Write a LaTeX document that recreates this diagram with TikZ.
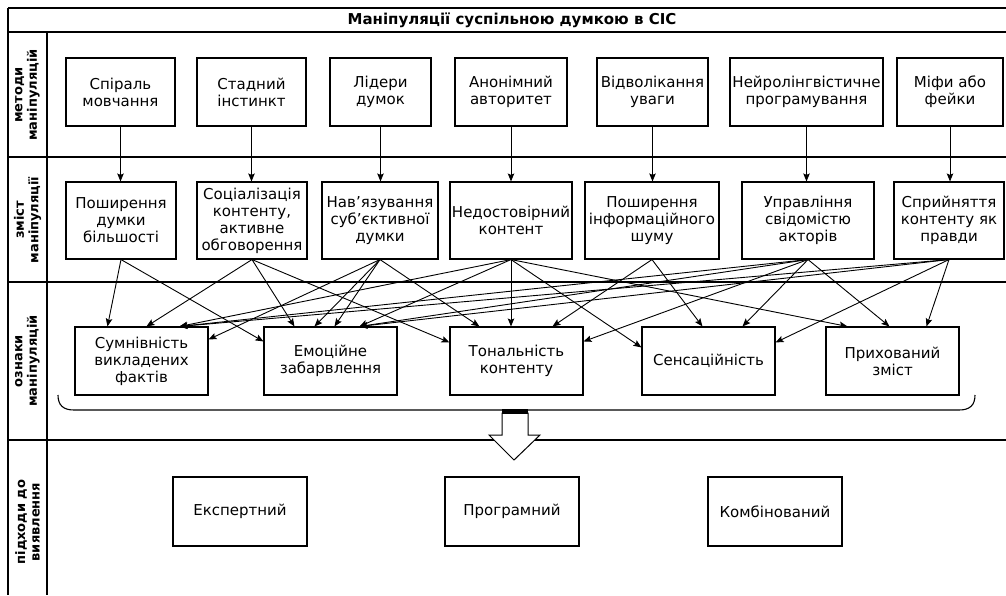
\documentclass[tikz,border=0pt]{standalone}
\usepackage{fontspec}
\setmainfont{DejaVu Sans}
\usetikzlibrary{arrows.meta,calc}
\begin{document}
\begin{tikzpicture}[x=1pt,y=-1pt,
  box/.style={draw,line width=1.1pt,inner sep=1pt,align=center,font=\fontsize{15}{17}\selectfont},
  r1/.style={box,minimum height=68pt},
  r2/.style={box,minimum height=77pt},
  r3/.style={box,minimum height=68pt,minimum width=133pt},
  r4/.style={box,minimum height=69pt,minimum width=134pt},
  lab/.style={rotate=90,align=center,font=\bfseries\fontsize{13}{14.5}\selectfont},
  con/.style={line width=0.9pt,-{Stealth[length=8pt,width=6.5pt,inset=1.5pt]}},
  frame/.style={line width=1.2pt}]
\useasboundingbox (0,0) rectangle (1006,595);
% frame
\draw[frame,line width=1.6pt] (8,8) -- (1006,8);
\draw[frame] (8,32) -- (1006,32);
\draw[frame] (8,157) -- (1006,157);
\draw[frame] (8,282) -- (1006,282);
\draw[frame] (8,440) -- (1006,440);
\draw[frame] (8,8) -- (8,595);
\draw[frame] (47,32) -- (47,595);
\node[font=\bfseries\fontsize{15}{17}\selectfont] (title) at (512,20) {Маніпуляції суспільною думкою в СІС};
% labels
\node[lab] (L1) at (27.5,95) {методи\\маніпуляцій};
\node[lab] (L2) at (27.5,220) {зміст\\маніпуляції};
\node[lab] (L3) at (27.5,361) {ознаки\\маніпуляцій};
\node[lab] (L4) at (27.5,522) {підходи до\\виявлення};
% row 1
\node[r1,minimum width=109pt] (B1) at (120.5,92) {Спіраль\\мовчання};
\node[r1,minimum width=109pt] (B2) at (251.5,92) {Стадний\\інстинкт};
\node[r1,minimum width=101pt] (B3) at (380.5,92) {Лідери\\думок};
\node[r1,minimum width=112pt] (B4) at (511,92) {Анонімний\\авторитет};
\node[r1,minimum width=111pt] (B5) at (652.5,92) {Відволікання\\уваги};
\node[r1,minimum width=153pt] (B6) at (806.5,92) {Нейролінгвістичне\\програмування};
\node[r1,minimum width=106pt] (B7) at (950,92) {Міфи або\\фейки};
% row 2
\node[r2,minimum width=110pt] (S1) at (121,220.5) {Поширення\\думки\\більшості};
\node[r2,minimum width=110pt] (S2) at (252,220.5) {Соціалізація\\контенту,\\активне\\обговорення};
\node[r2,minimum width=116pt] (S3) at (380,220.5) {Нав'язування\\суб'єктивної\\думки};
\node[r2,minimum width=122pt] (S4) at (511,220.5) {Недостовірний\\контент};
\node[r2,minimum width=134pt] (S5) at (652,220.5) {Поширення\\інформаційного\\шуму};
\node[r2,minimum width=132pt] (S6) at (808,220.5) {Управління\\свідомістю\\акторів};
\node[r2,minimum width=110pt] (S7) at (949,220.5) {Сприйняття\\контенту як\\правди};
% row 3
\node[r3] (T1) at (141.5,361) {Сумнівність\\викладених\\фактів};
\node[r3] (T2) at (330.5,361) {Емоційне\\забарвлення};
\node[r3] (T3) at (516.5,361) {Тональність\\контенту};
\node[r3] (T4) at (708.5,361) {Сенсаційність};
\node[r3] (T5) at (892.5,361) {Прихований\\зміст};
% row 4
\node[r4] (A1) at (240,511.5) {Експертний};
\node[r4] (A2) at (512,511.5) {Програмний};
\node[r4] (A3) at (775,511.5) {Комбінований};
% row1 -> row2
\foreach \i in {1,...,7}{\draw[con] (B\i.south) -- (B\i.south |- S\i.north);}
% row2 -> row3
\draw[con] (S1.south) -- ([xshift=33pt]T1.north west);
\draw[con] (S1.south) -- ([yshift=-15pt]T2.north west);
\draw[con] (S2.south) -- ([xshift=72pt]T1.north west);
\draw[con] (S2.south) -- ([xshift=31pt]T2.north west);
\draw[con] (S2.south) -- ([yshift=-16pt]T3.north west);
\draw[con] (S3.south) -- ([yshift=-13pt]T1.north east);
\draw[con] (S3.south) -- ([xshift=51pt]T2.north west);
\draw[con] (S3.south) -- ([xshift=71pt]T2.north west);
\draw[con] (S3.south) -- ([xshift=30pt]T3.north west);
\draw[con] (S4.south) -- ([xshift=105pt]T1.north west);
\draw[con] (S4.south) -- ([xshift=96pt]T2.north west);
\draw[con] (S4.south) -- ([xshift=-5.5pt]T3.north);
\draw[con] (S4.south) -- ([yshift=-21pt]T4.north west);
\draw[con] (S4.south) -- ([xshift=22pt]T5.north west);
\draw[con] (S5.south) -- ([xshift=103pt]T3.north west);
\draw[con] (S5.south) -- ([xshift=61pt]T4.north west);
\draw[con] (S6.south) -- ([xshift=105pt]T1.north west);
\draw[con] (S6.south) -- ([xshift=96pt]T2.north west);
\draw[con] (S6.south) -- ([yshift=-15pt]T3.north east);
\draw[con] (S6.south) -- ([xshift=101pt]T4.north west);
\draw[con] (S6.south) -- ([xshift=64pt]T5.north west);
\draw[con] (S7.south) -- ([xshift=105pt]T1.north west);
\draw[con] (S7.south) -- ([xshift=96pt]T2.north west);
\draw[con] (S7.south) -- ([yshift=-16pt]T4.north east);
\draw[con] (S7.south) -- ([xshift=101pt]T5.north west);
% brace and arrow
\draw[line width=1.1pt] (58,395) .. controls (58,405) and (63,410) .. (74,410) -- (959,410) .. controls (970,410) and (975,405) .. (975,395);
\draw[line width=1pt,fill=white] (502,413) -- (528,413) -- (528,435) -- (540,435) -- (514,460) -- (489,435) -- (502,435) -- cycle;
\fill (502,409) rectangle (528,414);
\end{tikzpicture}
\end{document}
